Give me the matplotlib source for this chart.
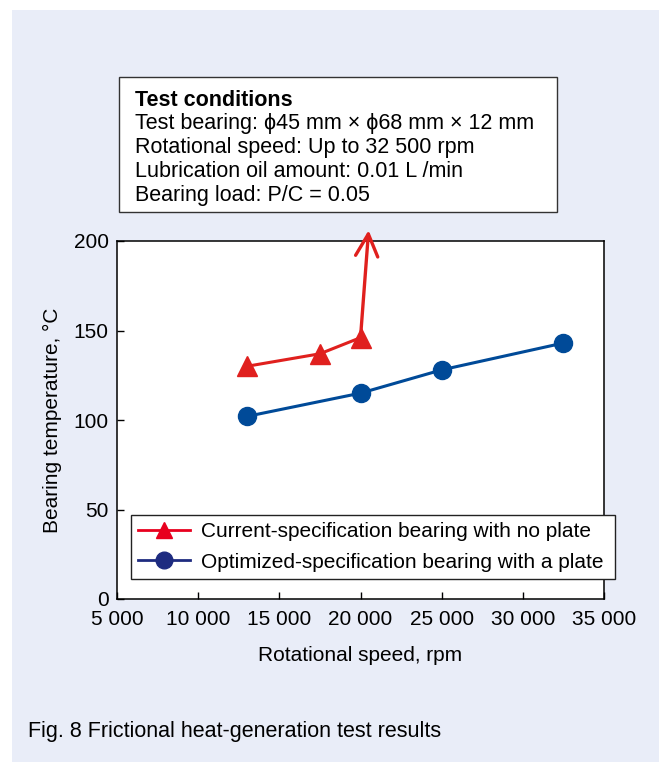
import matplotlib.pyplot as plt
from matplotlib.patches import Rectangle
from matplotlib.lines import Line2D
from matplotlib.ticker import FuncFormatter

plt.rcParams['font.family'] = ['Liberation Sans', 'DejaVu Sans']

# data
speed_cur = [13000, 17500, 20000]
temp_cur = [130, 137, 146]
arrow_tip = (20500, 206)   # runaway temperature, off scale

speed_opt = [13000, 20000, 25000, 32500]
temp_opt = [102, 115, 128, 143]

x_ticks = [5000, 10000, 15000, 20000, 25000, 30000, 35000]
y_ticks = [0, 50, 100, 150, 200]

conditions = ["Test bearing: \u03d545 mm \u00d7 \u03d568 mm \u00d7 12 mm",
              "Rotational speed: Up to 32 500 rpm",
              "Lubrication oil amount: 0.01 L /min",
              "Bearing load: P/C = 0.05"]

red = '#E0201E'
blue = '#004A98'
fs = 15
fs_box = 15.5

fig = plt.figure(figsize=(6.59, 7.62), dpi=100)
fig.patch.set_facecolor('white')
# light blue panel
fig.patches.append(Rectangle((12/659, 0), 1, (762-10)/762, transform=fig.transFigure,
                             facecolor='#E9EDF8', edgecolor='none', zorder=-10))

ax = fig.add_axes([117/659, 1-599/762, 487/659, 358/762])
ax.set_facecolor('white')

ax.plot(speed_cur, temp_cur, color=red, lw=2.2, marker='^', ms=14.5, zorder=3)
ax.annotate('', xy=arrow_tip, xytext=(speed_cur[-1], temp_cur[-1]),
            arrowprops=dict(arrowstyle='->,head_length=0.8,head_width=0.4',
                            mutation_scale=20, color=red, lw=2.4,
                            shrinkA=0, shrinkB=0),
            annotation_clip=False, zorder=3)
ax.plot(speed_opt, temp_opt, color=blue, lw=2.2, marker='o', ms=13, zorder=3)

ax.set_xlim(5000, 35000)
ax.set_ylim(0, 200)
ax.set_xticks(x_ticks)
ax.set_yticks(y_ticks)
ax.xaxis.set_major_formatter(FuncFormatter(lambda v, p: f"{int(v):,}".replace(',', ' ')))
ax.tick_params(direction='in', length=5, width=1, labelsize=fs, top=False, right=False)
ax.tick_params(axis='x', pad=8)
ax.tick_params(axis='y', pad=6)
for s in ax.spines.values():
    s.set_linewidth(1.1)

ax.set_xlabel('Rotational speed, rpm', fontsize=fs, labelpad=12)
ax.set_ylabel('Bearing temperature, \u00b0C', fontsize=fs, labelpad=8)

handles = [Line2D([], [], color='#E8001E', lw=2, marker='^', ms=12),
           Line2D([], [], color='#1E2B80', lw=2, marker='o', ms=12)]
labels = ['Current-specification bearing with no plate',
          'Optimized-specification bearing with a plate']
leg = ax.legend(handles, labels, loc='lower left', fontsize=fs,
                bbox_to_anchor=(131/659, 1-579/762, 484/659, 64/762),
                bbox_transform=fig.transFigure, mode='expand', borderaxespad=0,
                fancybox=False, framealpha=1, edgecolor='#222222',
                handlelength=2.5, handletextpad=0.5, labelspacing=0.55,
                borderpad=0.35)
leg.get_frame().set_linewidth(1)

# test conditions box
fig.patches.append(Rectangle((119/659, 1-212/762), 438/659, 135/762, transform=fig.transFigure,
                             facecolor='white', edgecolor='#333333', lw=1, zorder=1))
fig.text(135/659, 1-100/762, 'Test conditions', fontsize=fs_box, fontweight='bold', va='center')
for i, line in enumerate(conditions):
    fig.text(135/659, 1-(124 + 23.7*i)/762, line, fontsize=fs_box, va='center')

fig.text(28/659, 1-731/762, 'Fig. 8 Frictional heat-generation test results', fontsize=fs_box, va='center')

fig.savefig('out.png', dpi=100)
